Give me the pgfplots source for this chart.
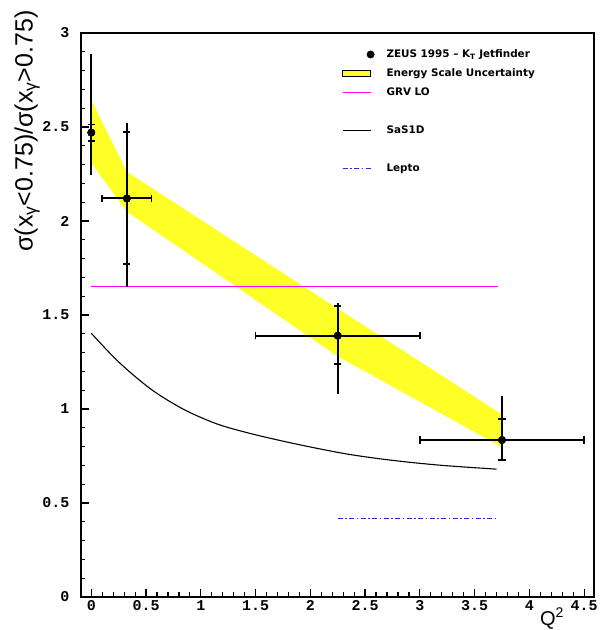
\documentclass[border=0pt]{standalone}
\usepackage{fontspec}
\setmainfont{Liberation Sans}
\newfontfamily\tickfont{Liberation Mono}
\newfontfamily\legfont{DejaVu Sans}
\usepackage{pgfplots}
\pgfplotsset{compat=1.18}
\definecolor{bandyellow}{RGB}{255,255,40}
\definecolor{grv}{RGB}{255,0,255}
\definecolor{lepto}{RGB}{40,40,235}
\begin{document}
\begin{tikzpicture}
\useasboundingbox (-81pt,-33pt) rectangle (519pt,597pt);
\begin{axis}[
  at={(0pt,0pt)}, anchor=south west,
  scale only axis, width=513pt, height=564pt,
  xmin=-0.094, xmax=4.59, ymin=0, ymax=3,
  xtick={0,0.5,...,4.5}, ytick={0,0.5,...,3},
  minor x tick num=4, minor y tick num=4,
  tick pos=left, tick align=inside,
  major tick length=8pt, minor tick length=4.5pt,
  every tick/.style={black, line width=1.2pt},
  axis line style={line width=1.5pt},
  /pgf/number format/assume math mode=true,
  ticklabel style={font=\tickfont\bfseries\fontsize{15}{15}\selectfont},
  yticklabel style={xshift=-8pt},
  xlabel={Q\textsuperscript{2}},
  xlabel style={at={(axis description cs:0.918,-0.038)}, anchor=center, font=\fontsize{20}{20}\selectfont},
  ylabel={σ(x\textsubscript{γ}<0.75)/σ(x\textsubscript{γ}>0.75)},
  ylabel style={at={(axis description cs:-0.105,1.046)}, anchor=east, font=\fontsize{25}{25}\selectfont},
  legend style={at={(axis cs:2.287,2.912)}, anchor=north west, draw=none, fill=none,
    inner sep=0pt, row sep=9.5pt, column sep=12pt,
    font=\legfont\bfseries\fontsize{10.4}{10.4}\selectfont,
    nodes={inner sep=0pt, text height=7.5pt, text depth=2pt}},
  legend cell align=left,
]
% energy scale uncertainty band
\addplot[fill=bandyellow, draw=none, forget plot] coordinates {
  (0,2.644) (0.324,2.262) (2.25,1.534) (3.74,0.975)
  (3.74,0.80) (2.25,1.28) (0.324,2.05) (0,2.307)} -- cycle;
% GRV LO
\addplot[grv, line width=1.3pt, forget plot] coordinates {(0,1.65) (3.71,1.65)};
% SaS1D
\addplot[black, line width=1.1pt, smooth, forget plot] coordinates {
  (0.0,1.403) (0.25,1.250) (0.55,1.103) (0.85,0.996) (1.15,0.920)
  (1.45,0.870) (1.75,0.829) (2.05,0.792) (2.35,0.759) (2.65,0.734)
  (2.95,0.714) (3.25,0.698) (3.70,0.680)};
% Lepto
\addplot[lepto, line width=1pt, dash pattern=on 5pt off 2.5pt on 1.5pt off 2.5pt, forget plot]
  coordinates {(2.25,0.415) (3.71,0.415)};
% total errors (no caps)
\addplot[draw=none, mark=none, forget plot, error bars/.cd, y dir=both, y explicit,
  error mark=none, error bar style={line width=1.8pt, black}] coordinates {
  (0,2.47) += (0,0.42) -= (0,0.225)
  (0.325,2.12) += (0,0.40) -= (0,0.47)
  (2.25,1.39) += (0,0.175) -= (0,0.31)
  (3.75,0.835) += (0,0.235) -= (0,0.11)};
% statistical errors (caps)
\addplot[only marks, mark=*, mark size=3.7pt, black, forget plot,
  error bars/.cd, y dir=both, y explicit,
  error bar style={line width=1.8pt, black},
  error mark options={rotate=90, black, line width=1.6pt, mark size=3.6pt}] coordinates {
  (0,2.47) += (0,0.044) -= (0,0.044)
  (0.325,2.12) += (0,0.352) -= (0,0.35)
  (2.25,1.39) += (0,0.159) -= (0,0.152)
  (3.75,0.835) += (0,0.113) -= (0,0.107)};
% x bins
\addplot[only marks, mark=*, mark size=3.7pt, black, forget plot,
  error bars/.cd, x dir=both, x explicit,
  error bar style={line width=2pt, black},
  error mark options={rotate=90, black, line width=1.6pt, mark size=3.6pt}] coordinates {
  (0.325,2.12) +- (0.225,0)
  (2.25,1.39) +- (0.75,0)
  (3.75,0.835) +- (0.75,0)};
% data point at Q2=0
\addplot[only marks, mark=*, mark size=3.7pt, black, forget plot] coordinates {(0,2.47)};
% legend
\addlegendimage{legend image code/.code={\fill[black] (28pt,0pt) circle (3.7pt);}}
\addlegendentry{ZEUS 1995 – K\textsubscript{T} Jetfinder}
\addlegendimage{legend image code/.code={\draw[black, fill=bandyellow, line width=1pt] (0pt,-3.2pt) rectangle (28pt,3.2pt);}}
\addlegendentry{Energy Scale Uncertainty}
\addlegendimage{legend image code/.code={\draw[grv, line width=1.3pt] (0pt,0pt) -- (28pt,0pt);}}
\addlegendentry{GRV LO}
\addlegendimage{empty legend}
\addlegendentry{}
\addlegendimage{legend image code/.code={\draw[black, line width=1.1pt] (0pt,0pt) -- (28pt,0pt);}}
\addlegendentry{SaS1D}
\addlegendimage{empty legend}
\addlegendentry{}
\addlegendimage{legend image code/.code={\draw[lepto, line width=1pt, dash pattern=on 5pt off 2.5pt on 1.5pt off 2.5pt] (0pt,0pt) -- (28pt,0pt);}}
\addlegendentry{Lepto}
\end{axis}
\end{tikzpicture}
\end{document}
